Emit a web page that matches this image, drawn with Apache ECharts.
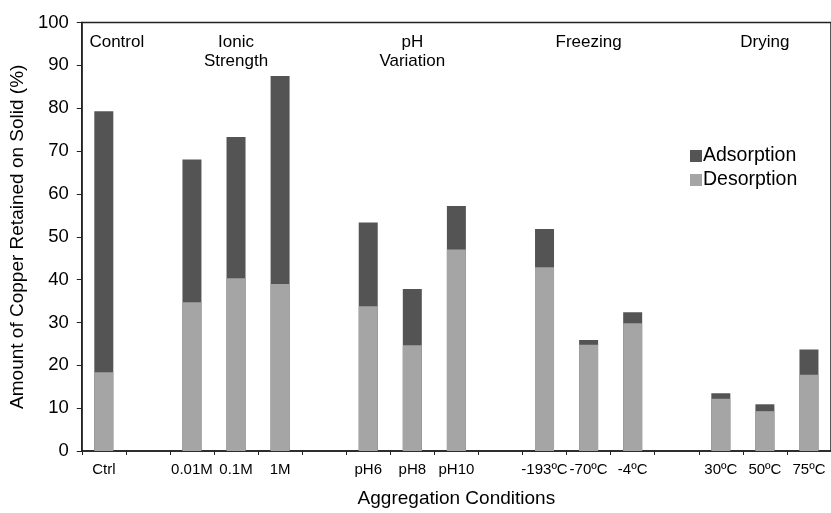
<!DOCTYPE html>
<html><head><meta charset="utf-8">
<script src="https://cdn.jsdelivr.net/npm/echarts@6/dist/echarts.min.js"></script>
<style>html,body{margin:0;padding:0;background:#fff}#c{width:831px;height:513px}</style>
</head><body><div id="c"></div>
<script>
const categories = ['Ctrl','', '0.01M','0.1M','1M','', 'pH6','pH8','pH10','', '-193ºC','-70ºC','-4ºC','', '30ºC','50ºC','75ºC'];
const groupLabels = ['Control','', '','Ionic\nStrength','','', '','pH\nVariation','','', '','Freezing','','', '','Drying',''];
const adsorption = [79.3, null, 68.0, 73.3, 87.5, null, 53.3, 37.8, 57.2, null, 51.8, 25.9, 32.4, null, 13.5, 10.9, 23.7];
const desorption = [18.4, null, 34.7, 40.3, 39.0, null, 33.8, 24.7, 47.0, null, 42.9, 24.8, 29.8, null, 12.2, 9.3, 17.8];
const yTicks = {min: 0, max: 100, interval: 10};

const FONT = '"Liberation Sans", Arial, Helvetica, sans-serif';
const chart = echarts.init(document.getElementById('c'), null, {renderer: 'canvas'});
chart.setOption({
  animation: false,
  textStyle: {fontFamily: FONT, color: '#000'},
  grid: {left: 81, top: 22.5, right: -3, bottom: 55, show: true, borderColor: '#222', borderWidth: 1.5, backgroundColor: 'transparent'},
  legend: {
    orient: 'vertical', left: 685, top: 141, itemWidth: 12, itemHeight: 12, itemGap: 4,
    icon: 'rect',
    textStyle: {fontFamily: FONT, fontSize: 19.5, color: '#000', padding: [0, 0, 0, -4]},
    data: ['Adsorption', 'Desorption']
  },
  xAxis: [{
    type: 'category', data: categories, position: 'bottom',
    name: 'Aggregation Conditions', nameLocation: 'middle', nameGap: 38,
    nameTextStyle: {fontFamily: FONT, fontSize: 19, color: '#000'},
    axisLine: {lineStyle: {color: '#222', width: 1.5}},
    axisTick: {show: true, length: 4, lineStyle: {color: '#222'}},
    axisLabel: {interval: 0, fontFamily: FONT, fontSize: 15, color: '#000', margin: 11}
  }, {
    type: 'category', data: groupLabels.map((g, i) => i === 0 ? {value: g, textStyle: {padding: [0, 0, 0, 26]}} : g),
    position: 'top',
    axisLine: {show: false}, axisTick: {show: false},
    axisLabel: {inside: true, interval: 0, fontFamily: FONT, fontSize: 17, lineHeight: 19, color: '#000', margin: 10}
  }],
  yAxis: {
    type: 'value', min: yTicks.min, max: yTicks.max, interval: yTicks.interval,
    name: 'Amount of Copper Retained on Solid (%)', nameLocation: 'middle', nameGap: 52, nameRotate: 90,
    nameTextStyle: {fontFamily: FONT, fontSize: 19, color: '#000'},
    axisLine: {show: true, lineStyle: {color: '#222', width: 1.5}},
    axisTick: {show: true, length: 5, lineStyle: {color: '#222'}},
    splitLine: {show: false},
    axisLabel: {fontFamily: FONT, fontSize: 18.5, color: '#000', margin: 13}
  },
  series: [{
    name: 'Adsorption', type: 'bar', data: adsorption, barWidth: 19, barGap: '-100%',
    itemStyle: {color: '#545454'}
  }, {
    name: 'Desorption', type: 'bar', data: desorption, barWidth: 19, barGap: '-100%',
    itemStyle: {color: '#a5a5a5'}
  }]
});
</script></body></html>
